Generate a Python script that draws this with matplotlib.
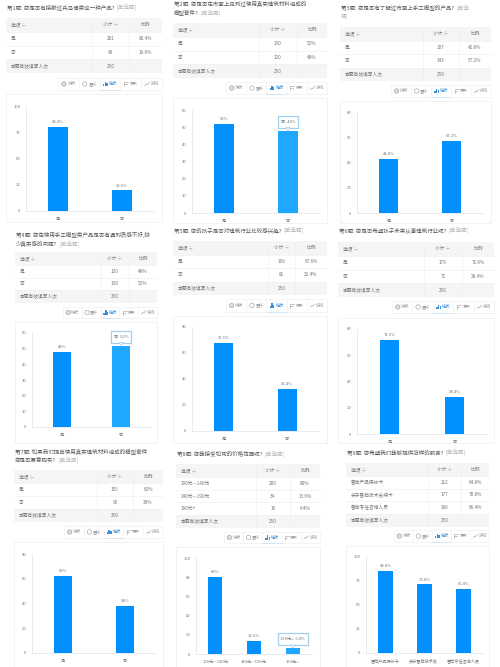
import matplotlib
matplotlib.use("Agg")
import matplotlib.pyplot as plt
from matplotlib.patches import Rectangle, Polygon, Circle

plt.rcParams['font.family'] = ['Noto Sans CJK SC', 'DejaVu Sans']

# survey questions
titles = [
    "第1题: 您是否有接触过兵马俑类这一种产品?",
    "第2题: 您是否在市面上见到过使用真实建筑材料组成的\n模型套件?",
    "第3题: 您是否有了解过市面上手工模型的产品?",
    "第4题: 您在使用手工模型类产品是否有遇到质感不好,缺\n少真实感的问题?",
    "第5题: 您的孩子是否对建筑行业比较感兴趣?",
    "第6题: 您是否希望孩子未来从事建筑行业呢?",
    "第7题: 如果我们提出使用真实建筑材料组成的模型套件\n您是否愿意购买?",
    "第8题: 您能接受如何的价格范围呢?",
    "第9题: 您希望我们能够提供怎样的服务?",
]
yes_no = ["是", "否"]
prices = ["100元—140元", "140元—190元", "190元+"]
services = ["售后产品保修卡", "关于售后技术支持卡", "售后专任咨询人员"]
services_short = ["售后产品保修卡", "关于售后技术支...", "售后专任咨询人员"]

counts = [[201, 49], [130, 120], [107, 143], [120, 130], [169, 81],
          [179, 71], [155, 95], [200, 34, 16], [212, 177, 166]]
percents = [[80.4, 19.6], [52, 48], [42.8, 57.2], [48, 52], [67.6, 32.4],
            [71.6, 28.4], [62, 38], [80, 13.6, 6.4], [84.8, 70.8, 66.4]]
percent_labels = [["80.4%", "19.6%"], ["52%", "48%"], ["42.8%", "57.2%"],
                  ["48%", "52%"], ["67.6%", "32.4%"], ["71.6%", "28.4%"],
                  ["62%", "38%"], ["80%", "13.6%", "6.4%"],
                  ["84.8%", "70.8%", "66.4%"]]
y_ticks = [[0, 25, 50, 75, 100], [0, 10, 20, 30, 40, 50, 60], [0, 20, 40, 60, 80],
           [0, 10, 20, 30, 40, 50, 60], [0, 20, 40, 60, 80], [0, 20, 40, 60, 80],
           [0, 20, 40, 60, 80], [0, 20, 40, 60, 80, 100], [0, 25, 50, 75, 100]]
option_names = [yes_no] * 7 + [prices, services]
axis_names = [yes_no] * 7 + [prices, services_short]
hover_index = [None, 1, None, 1, None, None, None, 2, None]
hover_text = {1: "否: 48%", 3: "否: 52%", 7: "190元+: 6.4%"}
total = 250
tag = "[单选题]"

# layout in pixels: title x, first line y, table l r t b, column lines, toolbar l t b, box t b, plot l r t b
title_pos = [(7, 7), (174, 4), (341, 8), (16, 235), (174, 230), (339, 230), (15, 451), (177, 454), (347, 452)]
tables = [(6, 162, 18, 73), (173, 327, 23, 78), (340, 491, 27, 81), (15, 157, 252, 303), (173, 327, 241, 295),
          (338, 494, 242, 297), (14, 163, 470, 522), (176, 320, 464, 528), (346, 489, 463, 527)]
col_lines = [(92, 129), (259, 297), (423, 459), (101, 129), (268, 295), (424, 462), (97, 133), (256, 290), (428, 461)]
toolbars = [(58, 78, 90), (226, 82, 94), (391, 85, 97), (63, 307, 318), (226, 299, 312), (392, 301, 313),
            (64, 526, 538), (224, 532, 543), (394, 530, 542)]
boxes = [(94, 222), (98, 223), (101, 223), (322, 443), (316, 443), (318, 443), (542, 667), (547, 667), (546, 667)]
plots = [(26, 154, 106, 211), (192, 320, 110, 213), (357, 483, 112, 213), (32, 151, 333, 427), (192, 319, 327, 431),
         (357, 487, 329, 434), (32, 156, 554, 653), (196, 312, 558, 654), (366, 483, 556, 653)]
toolbar_names = ["饼状", "圆环", "柱状", "条形", "折线"]

BAR = "#0091ff"
BAR_HOVER = "#1fa8ff"
TEXT = "#777777"
LINE = "#e4e9f0"
GRID = "#f0f0f0"
W, H = 500, 667
LINE_STEP = 8.5

fig = plt.figure(figsize=(W / 100, H / 100), dpi=100, facecolor="white")
page = fig.add_axes([0, 0, 1, 1])
page.set_xlim(0, W)
page.set_ylim(H, 0)
page.axis("off")


def draw_title(i):
    x, y = title_pos[i]
    lines = titles[i].split("\n")
    for k, line in enumerate(lines):
        t = page.text(x, y + k * LINE_STEP, line, fontsize=3.95, color="#5c5c5c", ha="left", va="center")
    end = t.get_window_extent(fig.canvas.get_renderer()).x1 + 2
    last_y = y + (len(lines) - 1) * LINE_STEP
    style = dict(fontsize=3.95, color="#b5b5b5", ha="left", va="center")
    if i == 2:
        # this one wraps inside the tag
        page.text(end, last_y, tag[:3], **style)
        page.text(x, last_y + LINE_STEP, tag[3:], **style)
    else:
        page.text(end, last_y, tag, **style)


def draw_table(i):
    l, r, t, b = tables[i]
    names = option_names[i]
    rows = len(names) + 2
    h = (b - t) / rows
    page.add_patch(Rectangle((l, t), r - l, h, fc="#f5f5f5", ec="none"))
    page.add_patch(Rectangle((l, b - h), r - l, h, fc="#f5f5f5", ec="none"))
    for k in range(1, rows):
        page.plot([l, r], [t + k * h] * 2, color=GRID, lw=0.5)
    c1, c2 = col_lines[i]
    page.plot([c1, c1], [t, b], color=GRID, lw=0.5)
    page.plot([c2, c2], [t, b], color=GRID, lw=0.5)
    mid1, mid2 = (c1 + c2) / 2, (c2 + r) / 2
    tx = l + 5
    style = dict(fontsize=3.4, color=TEXT, va="center")
    page.text(tx, t + h / 2, "选项 ÷", ha="left", **style)
    page.text(mid1, t + h / 2, "小计 ÷", ha="center", **style)
    page.text(mid2, t + h / 2, "比例", ha="center", **style)
    for k, name in enumerate(names):
        y = t + (k + 1.5) * h
        page.text(tx, y, name, ha="left", **style)
        page.text(mid1, y, str(counts[i][k]), ha="center", **style)
        page.text(mid2, y, percent_labels[i][k], ha="center", **style)
    page.text(tx, b - h / 2, "本题有效填写人次", ha="left", **style)
    page.text(mid1, b - h / 2, str(total), ha="center", **style)


def draw_toolbar(i):
    l, t, b = toolbars[i]
    r = tables[i][1]
    step = (r - l) / 5
    page.add_patch(Rectangle((l, t), r - l, b - t, fc="white", ec=GRID, lw=0.5))
    for k, name in enumerate(toolbar_names):
        x = l + k * step
        active = k == 2
        color = "#3a8fd6" if active else "#999999"
        if k:
            page.plot([x, x], [t, b], color=GRID, lw=0.5)
        if active:
            page.plot([x, x + step], [b, b], color="#cfe5f8", lw=0.6)
        cy = (t + b) / 2
        ix = x + step * 0.28
        if k < 2:
            page.add_patch(Circle((ix, cy), 2.2, fc="#dddddd" if k == 0 else "none", ec=color, lw=0.4))
        elif k == 2:
            page.add_patch(Rectangle((ix - 2.4, cy), 1.4, 2.2, fc=color, ec="none"))
            page.add_patch(Rectangle((ix - 0.7, cy - 2.2), 1.4, 4.4, fc=color, ec="none"))
            page.add_patch(Rectangle((ix + 1, cy - 0.6), 1.4, 2.8, fc=color, ec="none"))
        elif k == 3:
            page.plot([ix - 2, ix - 2, ix + 2], [cy + 2, cy - 2, cy - 2], color=color, lw=0.4)
            page.plot([ix - 2, ix + 0.5], [cy, cy], color=color, lw=0.4)
        else:
            page.plot([ix - 2.2, ix - 0.6, ix + 0.4, ix + 2.2], [cy + 1.6, cy, cy + 0.6, cy - 1.6], color=color, lw=0.4)
        page.text(x + step * 0.66, cy, name, fontsize=3.0, color=color, ha="center", va="center")


def draw_hover(ax, x, value, text, px_y, px_x):
    # tooltip sitting on top of the hovered bar, sizes given in pixels
    box_w = 8 + 2 * len(text)
    box_h = 12
    gap = 3
    y0 = value + gap / px_y
    ax.add_patch(Rectangle((x - box_w / 2 / px_x, y0), box_w / px_x, box_h / px_y,
                           fc="white", ec="#a5cfeb", lw=0.9, clip_on=False, zorder=5))
    ax.add_patch(Polygon([(x - 2 / px_x, y0), (x + 2 / px_x, y0), (x, value)],
                         fc="white", ec="#a5cfeb", lw=0.5, clip_on=False, zorder=6))
    ax.text(x, y0 + box_h / 2 / px_y, text, fontsize=3.0, color=TEXT, ha="center", va="center", zorder=7)


def draw_chart(i):
    l, r = tables[i][:2]
    top, bottom = boxes[i]
    page.add_patch(Rectangle((l, top), r - l, bottom - top, fc="white", ec="#f1f1f1", lw=0.6))
    pl, pr, pt, pb = plots[i]
    ax = fig.add_axes([pl / W, 1 - pb / H, (pr - pl) / W, (pb - pt) / H])
    ax.patch.set_alpha(0)
    n = len(percents[i])
    width = 0.36 if n == 3 else 0.3
    colors = [BAR_HOVER if hover_index[i] == k else BAR for k in range(n)]
    xs = [k + 0.5 for k in range(n)]
    ax.bar(xs, percents[i], width=width, color=colors)
    ax.set_xlim(0, n)
    ax.set_ylim(0, y_ticks[i][-1])
    ax.set_yticks(y_ticks[i])
    ax.set_xticks(xs)
    ax.set_xticklabels(axis_names[i])
    ax.tick_params(axis="both", length=0, labelsize=3.0, labelcolor=TEXT, pad=4)
    for side in ("top", "right"):
        ax.spines[side].set_visible(False)
    for side in ("left", "bottom"):
        ax.spines[side].set_color(LINE)
        ax.spines[side].set_linewidth(0.6)
    for k in range(n):
        if hover_index[i] == k:
            draw_hover(ax, xs[k], percents[i][k], hover_text[i],
                       (pb - pt) / y_ticks[i][-1], (pr - pl) / n)
        else:
            ax.annotate(percent_labels[i][k], (xs[k], percents[i][k]), xytext=(0, 2),
                        textcoords="offset points", fontsize=3.0, color=TEXT, ha="center", va="bottom")


for i in range(9):
    draw_title(i)
    draw_table(i)
    draw_toolbar(i)
    draw_chart(i)

fig.savefig("out.png", dpi=100)
